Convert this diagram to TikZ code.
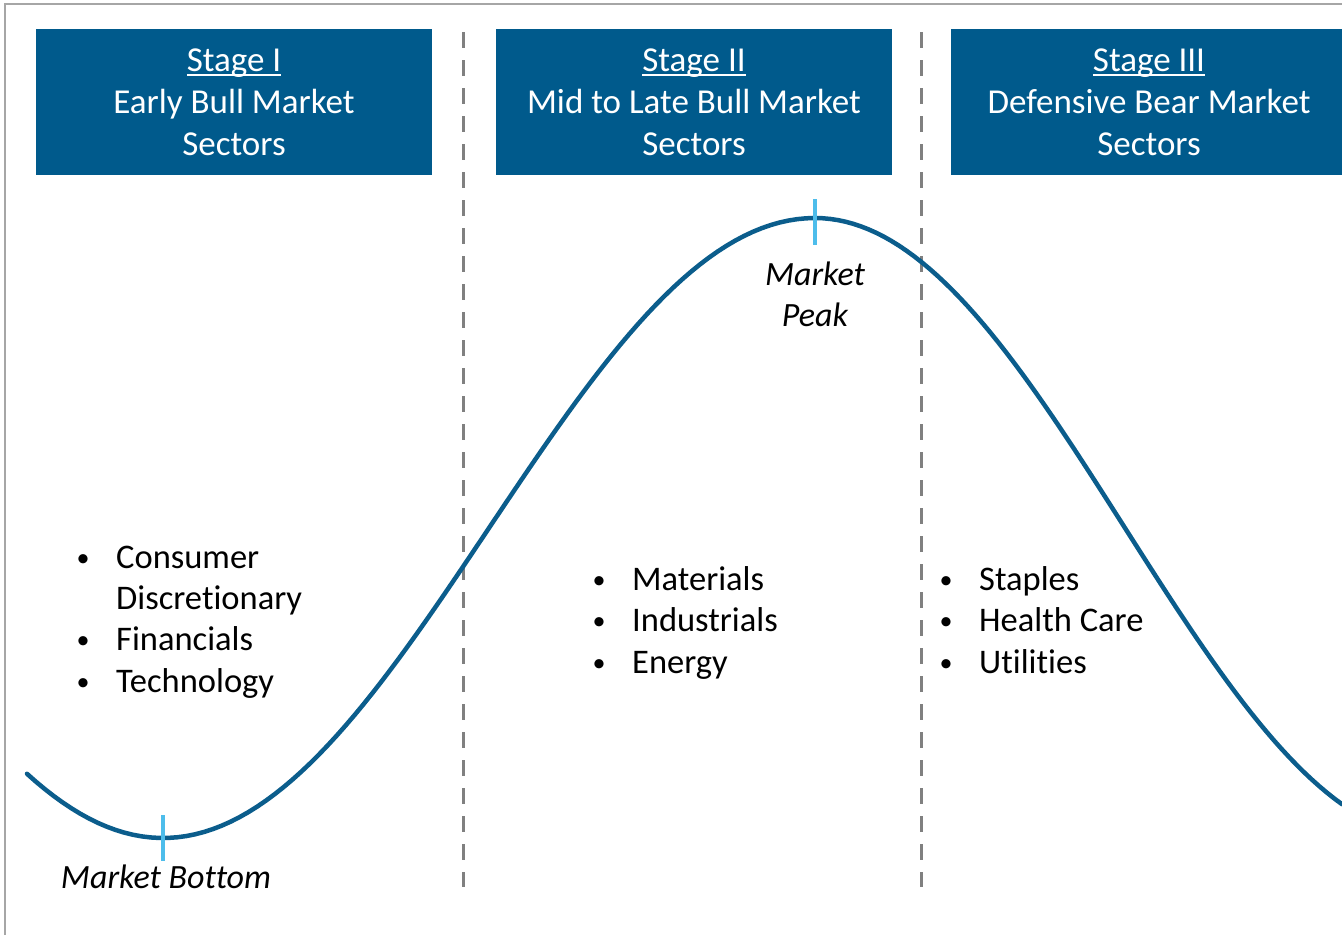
\documentclass[tikz,border=0pt]{standalone}
\usepackage{fontspec}
\setmainfont{Carlito}[Ligatures=NoCommon]
\usetikzlibrary{positioning}

\definecolor{stageblue}{HTML}{005A8C}
\definecolor{cycleblue}{HTML}{0B5D8C}
\definecolor{tickblue}{HTML}{4DBDEB}
\definecolor{splitgray}{HTML}{808080}
\definecolor{framegray}{HTML}{A6A6A6}

% underline that runs through the descenders
\newcommand\stageul[1]{\setbox0=\hbox{#1}\rlap{\rule[-4.5pt]{\wd0}{1.8pt}}\box0}
\newcommand\bul{\makebox[34pt]{\raisebox{2pt}{\fontsize{26}{0}\selectfont\textbullet}}\hspace{16pt}}
\newcommand\nobul{\hspace{50pt}}

\tikzset{
  stagebox/.style={fill=stageblue, text=white, align=center, inner sep=0pt,
    minimum width=396pt, minimum height=146pt,
    font=\fontsize{35}{42}\selectfont},
  sectorlist/.style={anchor=base west, align=left, inner sep=0pt,
    font=\fontsize{34.5}{41.3}\selectfont},
  turnlabel/.style={anchor=base, align=center, inner sep=0pt,
    font=\fontsize{34}{41}\selectfont\itshape},
  splitline/.style={splitgray, line width=3pt, dash pattern=on 16pt off 12pt},
  cycleline/.style={cycleblue, line width=4.5pt, line cap=round},
  turntick/.style={tickblue, line width=4.5pt}
}

\begin{document}
\begin{tikzpicture}[x=1pt,y=-1pt]
 \useasboundingbox (0,0) rectangle (1342,935);
 \draw[framegray, line width=2pt] (5,935) -- (5,4) -- (1342,4);

 % stage headers
 \node[stagebox] (stageone)   at (234,102) {\stageul{Stage I}\\Early Bull Market\\Sectors};
 \node[stagebox] (stagetwo)   at (694,102) {\stageul{Stage II}\\Mid to Late Bull Market\\Sectors};
 \node[stagebox] (stagethree) at (1149,102) {\stageul{Stage III}\\Defensive Bear Market\\Sectors};

 % stage borders
 \draw[splitline] (463,32) -- (463,887);
 \draw[splitline] (921,32) -- (921,887);

 % market cycle: bottom at 163, peak at 815
 \draw[cycleline] plot[domain=27:815, samples=90] (\x, {528+310*cos(0.276074*(\x-163))})
   -- plot[domain=815:1342, samples=70] (\x, {528-310*cos(0.290323*(\x-815))});
 \draw[turntick] (163,815) -- (163,861);
 \draw[turntick] (815,199) -- (815,245);

 % base anchor sits on the last line
 \node[turnlabel] (bottom) at (166,888) {Market Bottom};
 \node[turnlabel] (peak)   at (815,326) {Market\\Peak};

 % sectors
 \node[sectorlist] (earlylist) at (66,692) {\bul Consumer\\\nobul Discretionary\\\bul Financials\\\bul Technology};
 \node[sectorlist] (midlist)   at (582,673) {\bul Materials\\\bul Industrials\\\bul Energy};
 \node[sectorlist] (bearlist)  at (929,673) {\bul Staples\\\bul Health Care\\\bul Utilities};
\end{tikzpicture}
\end{document}
